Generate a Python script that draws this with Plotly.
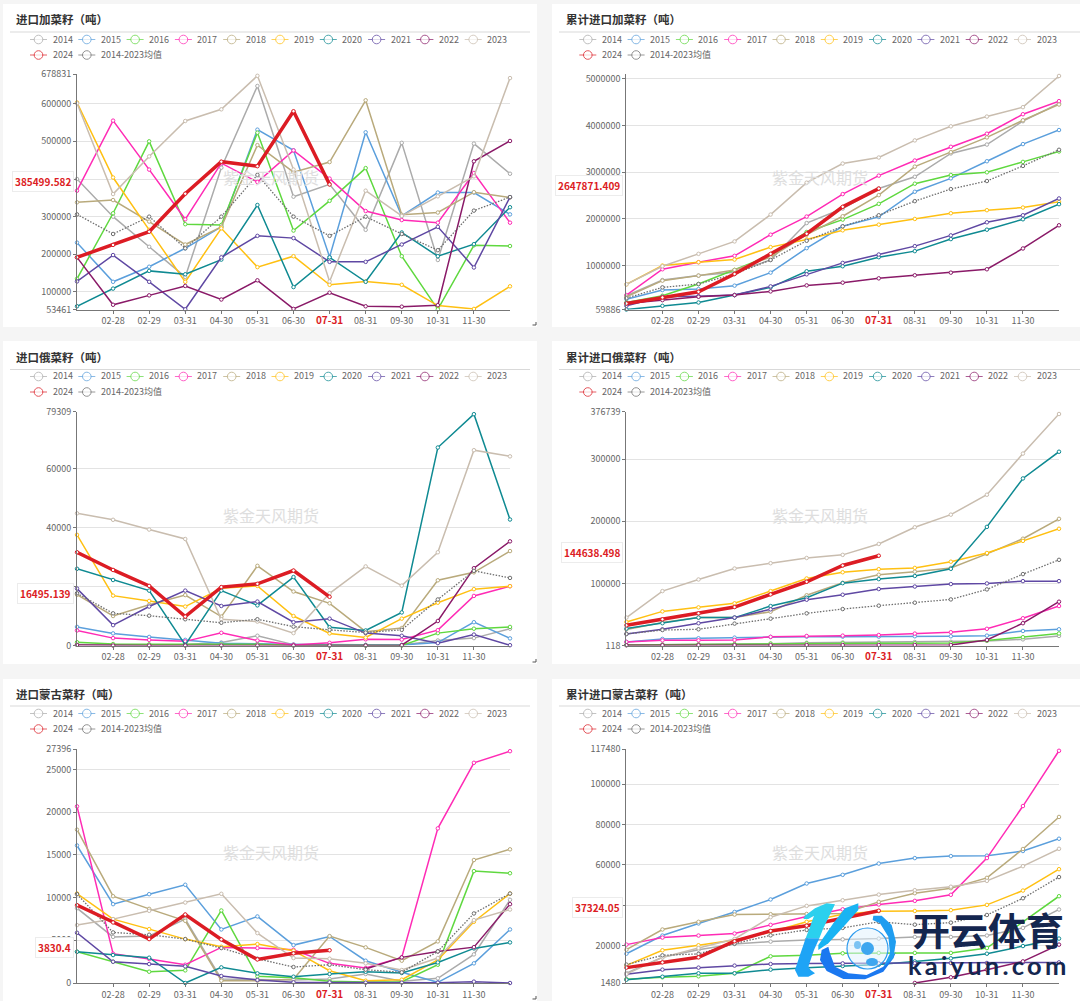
"""
plot.py – 进口菜籽月度 / 累计图 (6 面板)
"""
import plotly.graph_objects as go

W, H = 1080, 1001

MONTHS = ["01-31", "02-28", "02-29", "03-31", "04-30", "05-31", "06-30",
          "07-31", "08-31", "09-30", "10-31", "11-30", "12-31"]
SERIES = ["2014", "2015", "2016", "2017", "2018", "2019", "2020", "2021",
          "2022", "2023", "2024", "2014-2023均值"]
COLORS = ["#ababab", "#5b9fdc", "#5fd83f", "#ff2bb5", "#b9aa7c", "#ffc012",
          "#0f8a92", "#5f48a3", "#8a1a68", "#c9bdaf", "#dc1c24", "#6e6e6e"]

# 每行顺序同 SERIES
CAD_MONTHLY = [
    [400000, 300000, 220000, 140000, 430000, 647000, 353000, 386000, 265000, 496000, 185000, 494000, 414000],
    [231000, 127000, 167000, 216000, 273000, 531000, 476000, 193000, 524000, 302000, 364000, 364000, 306000],
    [135000, 309000, 500000, 280000, 278000, 523000, 263000, 342000, 429000, 195000, 54000, 224000, 222000],
    [369000, 555000, 425000, 293000, 442000, 392000, 476000, 401000, 315000, 291000, 284000, 416000, 284000],
    [338000, 344000, 287000, 226000, 273000, 490000, 418000, 445000, 609000, 305000, 311000, 365000, 351000],
    [603000, 404000, 265000, 127000, 269000, 166000, 195000, 119000, 128000, 119000, 64000, 55000, 115000],
    [62000, 109000, 156000, 147000, 186000, 331000, 113000, 192000, 127000, 258000, 195000, 227000, 325000],
    [128000, 198000, 127000, 54000, 192000, 249000, 243000, 180000, 180000, 226000, 273000, 165000, 352000],
    [192000, 66000, 91000, 116000, 80000, 131000, 55000, 98000, 62000, 61000, 65000, 447000, 501000],
    [601000, 360000, 460000, 554000, 585000, 674000, 425000, 128000, 369000, 302000, 354000, 407000, 668000],
    [192000, 225000, 260000, 361000, 446000, 434000, 580000, 385499.582, None, None, None, None, None],
    [306000, 254000, 300000, 216000, 300000, 411000, 300000, 249000, 300000, 254000, 211000, 316000, 352000],
]
CAD_TOTAL = [
    [354000, 690000, 785000, 856000, 1120000, 1910000, 2220000, 2650000, 2900000, 3400000, 3590000, 4090000, 4470000],
    [280000, 476000, 497000, 570000, 849000, 1373000, 1840000, 2041000, 2580000, 2867000, 3233000, 3600000, 3901000],
    [210000, 354000, 605000, 907000, 1215000, 1718000, 1984000, 2321000, 2752000, 2939000, 2996000, 3219000, 3442000],
    [368000, 921000, 1072000, 1208000, 1661000, 2049000, 2530000, 2925000, 3248000, 3542000, 3822000, 4239000, 4519000],
    [332000, 677000, 785000, 907000, 1180000, 1661000, 2056000, 2508000, 3118000, 3427000, 3743000, 4110000, 4447000],
    [598000, 1000000, 1072000, 1129000, 1395000, 1560000, 1754000, 1876000, 1998000, 2120000, 2185000, 2242000, 2364000],
    [59886, 138000, 210000, 368000, 533000, 878000, 986000, 1180000, 1309000, 1567000, 1768000, 1991000, 2314000],
    [138000, 332000, 346000, 368000, 555000, 813000, 1057000, 1237000, 1416000, 1646000, 1926000, 2077000, 2436000],
    [189000, 260000, 332000, 368000, 447000, 576000, 634000, 727000, 792000, 849000, 921000, 1366000, 1862000],
    [598000, 986000, 1251000, 1517000, 2092000, 2774000, 3183000, 3312000, 3679000, 3980000, 4189000, 4390000, 5058000],
    [189000, 318000, 440000, 820000, 1251000, 1682000, 2257000, 2647871.409, None, None, None, None, None],
    [303000, 533000, 605000, 820000, 1120000, 1531000, 1840000, 2077000, 2379000, 2637000, 2810000, 3133000, 3478000],
]
RUS_MONTHLY = [
    [300, 200, 200, 300, 1000, 3300, 300, 300, 200, 200, 1700, 2500, 5700],
    [6300, 4100, 2900, 1900, 800, 600, 300, 200, 200, 200, 1000, 7900, 2400],
    [1100, 500, 400, 400, 400, 400, 100, 0, 0, 0, 4200, 5700, 6300],
    [5100, 2500, 1900, 1400, 4300, 1700, 200, 900, 2100, 2000, 5200, 16800, 20100],
    [17200, 10000, 13800, 17100, 9800, 27000, 18300, 14300, 4700, 5900, 22100, 24800, 32000],
    [37500, 16900, 15100, 13200, 19400, 20200, 10000, 4100, 2700, 9100, 14500, 19100, 20100],
    [26000, 22200, 18600, 200, 18600, 13600, 23200, 6200, 5100, 11200, 67100, 78400, 42700],
    [19300, 6900, 13200, 18600, 13400, 14900, 7900, 9100, 4200, 3300, 800, 3700, 100],
    [200, 0, 0, 0, 0, 0, 0, 0, 0, 100, 8300, 26200, 35300],
    [44800, 42600, 39300, 36100, 8900, 8100, 4200, 17700, 26800, 20300, 31600, 66200, 64100],
    [31600, 25600, 20200, 9800, 19800, 20900, 25400, 16495.139, None, None, None, None, None],
    [17700, 10900, 10100, 8900, 7700, 8900, 6400, 5300, 4400, 5300, 15600, 25300, 22900],
]
RUS_TOTAL = [
    [1000, 1400, 1500, 2000, 3000, 4500, 5000, 5500, 5700, 6000, 7500, 10000, 15500],
    [5900, 10700, 11800, 12800, 13900, 14400, 14400, 14400, 15000, 15000, 16000, 23500, 26200],
    [1000, 1500, 2000, 2500, 3200, 3500, 3700, 3800, 3800, 4000, 8000, 13500, 19500],
    [5900, 8400, 8400, 9000, 14000, 15500, 16000, 17000, 19300, 21500, 27000, 44000, 63600],
    [26000, 37000, 45000, 45000, 54500, 81000, 101000, 114000, 119000, 125000, 147600, 172000, 204000],
    [38000, 55000, 61500, 68000, 87700, 108000, 118000, 123000, 125000, 135000, 149000, 168500, 188000],
    [27300, 36000, 45000, 45000, 63600, 77000, 100500, 107000, 112000, 123500, 191000, 269000, 312000],
    [18700, 26200, 36000, 45000, 58300, 73800, 81800, 91000, 95000, 99000, 100000, 103700, 103700],
    [500, 600, 700, 800, 800, 900, 900, 1000, 1000, 1000, 9000, 36000, 70600],
    [45000, 87700, 106400, 124000, 132600, 141000, 146000, 163600, 190400, 210700, 242800, 309000, 372700],
    [32600, 42200, 51900, 62000, 82400, 102700, 128900, 144638.498, None, None, None, None, None],
    [18700, 25000, 26200, 35300, 43300, 51900, 58800, 64200, 69000, 74300, 90400, 115000, 138000],
]
MON_MONTHLY = [
    [8760, 5400, 5500, 7480, 470, 390, 350, 470, 1050, 200, 550, 3350, 9740],
    [16100, 9230, 10400, 11500, 6270, 7790, 4440, 5450, 2610, 1250, 80, 2300, 6270],
    [3660, 2490, 1320, 1480, 8490, 780, 620, 200, 120, 160, 2140, 13100, 12850],
    [20680, 3430, 2800, 2140, 4170, 4090, 3890, 2300, 1750, 3000, 18100, 25780, 27140],
    [17950, 10160, 8680, 7280, 270, 270, 430, 5490, 4170, 2610, 4870, 14400, 15650],
    [10470, 7480, 6310, 5140, 4240, 4560, 3780, 1440, 270, 390, 2690, 7170, 10470],
    [3660, 3270, 2960, 0, 1830, 1130, 740, 1050, 1320, 1170, 2410, 4050, 4750],
    [5880, 2490, 2220, 1950, 820, 350, 80, 80, 40, 40, 40, 160, 0],
    [None, None, None, None, None, None, None, None, 1640, 3000, 3700, 4200, 9230],
    [6780, 7480, 8450, 9420, 10440, 5840, 2920, 2840, 2300, 1520, 2920, 7360, 8600],
    [9110, 7090, 5140, 8020, 5100, 2760, 3470, 3830.4, None, None, None, None, None],
    [10400, 5920, 5650, 5140, 4090, 2840, 1870, 2140, 1560, 1250, 3700, 8140, 10470],
]
MON_TOTAL = [
    [6400, 14200, 18000, 20800, 22000, 22800, 23100, 23500, 24300, 24300, 25000, 28800, 37900],
    [16000, 25000, 31000, 36700, 42900, 50800, 55100, 60700, 63400, 64400, 64600, 66900, 73000],
    [3400, 4300, 4800, 6300, 14700, 15200, 16200, 16400, 16400, 16400, 18800, 31800, 44500],
    [20500, 24000, 25000, 26000, 30300, 34400, 38000, 40400, 42200, 45200, 63400, 89200, 116600],
    [18000, 28000, 31800, 35400, 35600, 35700, 35900, 41700, 46000, 48500, 53600, 67900, 83800],
    [10200, 17700, 20200, 22800, 26800, 31800, 35600, 37100, 37200, 37600, 40200, 47300, 57900],
    [3100, 4600, 6300, 6300, 8100, 9100, 9900, 10600, 12200, 13700, 16000, 19800, 23500],
    [5800, 8100, 9100, 10100, 10900, 11100, 11200, 11200, 11300, 11400, 11400, 11700, 11700],
    [None, None, None, None, None, None, None, None, 1500, 4300, 8100, 12200, 20500],
    [5900, 14200, 18800, 23300, 34100, 39700, 42500, 45300, 47500, 49200, 52100, 59400, 68000],
    [9100, 11700, 14200, 22200, 27300, 29900, 33400, 37324.05, None, None, None, None, None],
    [10600, 15200, 15900, 21000, 25100, 27800, 28800, 31800, 30400, 31400, 35200, 43500, 54000],
]

TITLES = ["进口加菜籽（吨）", "累计进口加菜籽（吨）", "进口俄菜籽（吨）",
          "累计进口俄菜籽（吨）", "进口蒙古菜籽（吨）", "累计进口蒙古菜籽（吨）"]
TABLES = [CAD_MONTHLY, CAD_TOTAL, RUS_MONTHLY, RUS_TOTAL, MON_MONTHLY, MON_TOTAL]
Y_TICKS = [
    [53461, 100000, 200000, 300000, 400000, 500000, 600000, 678831],
    [59886, 1000000, 2000000, 3000000, 4000000, 5000000],
    [0, 20000, 40000, 60000, 79309],
    [118, 100000, 200000, 300000, 376739],
    [0, 5000, 10000, 15000, 20000, 25000, 27396],
    [1480, 20000, 40000, 60000, 80000, 100000, 117480],
]
Y_MAX = [678831, 5100000, 79309, 376739, 27396, 117480]
Y_MIN = [53461, 59886, 0, 118, 0, 1480]
LATEST = ["385499.582", "2647871.409", "16495.139", "144638.498", "3830.4", "37324.05"]

FONT = "Noto Sans CJK SC"
# 面板几何 (像素): 行 = (面板上, 面板下, 标题中线, 分隔线, 图例1, 图例2, 轴上, 轴下)
ROWS = [(4, 327, 19, 32, 39.5, 55, 74, 309.5),
        (341, 664, 357, 369.5, 376.5, 392, 411.5, 645.5),
        (679, 1001, 694, 706, 713.5, 729, 749, 983)]
# 列 = (面板左, 面板右, 标题左, 线左, 线右, 轴左, 轴右, 图例左)
COLS = [(3, 537, 14, 10, 530, 77, 510, 30),
        (552, 1080, 563.5, 559, 1080, 626.4, 1059, 579.3)]
LEGEND_STEP = 48.3


def px(x):
    return x / W


def py(y):
    return 1 - y / H


def path(points, close=True):
    s = "M" + " L".join(f"{px(x):.5f},{py(y):.5f}" for x, y in points)
    return s + (" Z" if close else "")


def logo_path(points, color):
    # 坐标取自 logo 局部 (790, 895 起, 3 倍)
    pts = [(790 + a / 3, 895 + b / 3) for a, b in points]
    return dict(type="path", xref="paper", yref="paper", layer="above", path=path(pts),
                fillcolor=color, line_width=0)


def legend_items(col, row):
    # 图例: 短线 + 空心圆 + 文字
    items, texts = [], []
    for k, name in enumerate(SERIES):
        x0 = col[7] + LEGEND_STEP * (k if k < 10 else k - 10)
        y0 = row[4] if k < 10 else row[5]
        items.append(dict(type="line", xref="paper", yref="paper", x0=px(x0), x1=px(x0 + 17),
                          y0=py(y0), y1=py(y0), opacity=0.7, line=dict(color=COLORS[k], width=1)))
        items.append(dict(type="circle", xref="paper", yref="paper", x0=px(x0 + 4.2), x1=px(x0 + 12.8),
                          y0=py(y0 + 4.3), y1=py(y0 - 4.3), opacity=0.75, fillcolor="white",
                          line=dict(color=COLORS[k], width=1)))
        texts.append(dict(text=name, xref="paper", yref="paper", x=px(x0 + 20.5), y=py(y0 - 0.5),
                          xanchor="left", yanchor="middle", showarrow=False,
                          font=dict(family=FONT, size=9, color="#666666")))
    return items, texts


fig = go.Figure()
shapes, annotations = [], []
layout = {}

for i, (title, table) in enumerate(zip(TITLES, TABLES)):
    row, col = ROWS[i // 2], COLS[i % 2]
    n = "" if i == 0 else str(i + 1)
    xname, yname = "x" + n, "y" + n

    # 面板底色 / 标题线
    shapes.append(dict(type="rect", xref="paper", yref="paper", layer="below",
                       x0=px(col[0]), x1=px(col[1]), y0=py(row[1]), y1=py(row[0]),
                       fillcolor="white", line_width=0))
    shapes.append(dict(type="line", xref="paper", yref="paper", layer="below",
                       x0=px(col[3]), x1=px(col[4]), y0=py(row[3]), y1=py(row[3]),
                       line=dict(color="#d9d9d9", width=1)))
    annotations.append(dict(text=f"<b>{title}</b>", xref="paper", yref="paper",
                            x=px(col[2]), y=py(row[2]), xanchor="left", yanchor="middle",
                            showarrow=False, font=dict(family=FONT, size=11.5, color="#333333")))
    annotations.append(dict(text="紫金天风期货", xref="paper", yref="paper",
                            x=px((col[5] + col[6]) / 2 - 23), y=py(row[6] + 103),
                            xanchor="center", yanchor="middle", showarrow=False,
                            font=dict(family=FONT, size=16, color="#dedede")))

    # 2024 最后画, 均值在它下面
    for k in [0, 1, 2, 3, 4, 5, 6, 7, 8, 9, 11, 10]:
        is_now = k == 10
        is_avg = k == 11
        fig.add_trace(go.Scatter(
            x=MONTHS, y=table[k], xaxis=xname, yaxis=yname, mode="lines+markers",
            name=SERIES[k], showlegend=False, cliponaxis=False,
            line=dict(color=COLORS[k], width=3.5 if is_now else 1.3 if is_avg else 1.5,
                      dash="1.5px,1.5px" if is_avg else "solid"),
            marker=dict(symbol="circle", size=3.5, color="white",
                        line=dict(color=COLORS[k], width=1)),
        ))

    items, texts = legend_items(col, row)
    shapes += items
    annotations += texts

    ticktext = [f'<span style="color:#dc1c24;font-size:10px"><b>{m}</b></span>' if m == "07-31" else m
                for m in MONTHS[1:12]]
    layout["xaxis" + n] = dict(
        domain=[px(col[5]), px(col[6])], anchor=yname, type="category", range=[0, 12],
        tickmode="array", tickvals=MONTHS[1:12], ticktext=ticktext, tickangle=0,
        ticks="outside", ticklen=3, tickcolor="#777777", showgrid=False, zeroline=False,
        showline=True, linecolor="#777777", linewidth=1,
        tickfont=dict(family=FONT, size=9, color="#666666"),
    )
    layout["yaxis" + n] = dict(
        domain=[py(row[7]), py(row[6])], anchor=xname, range=[Y_MIN[i], Y_MAX[i]],
        tickmode="array", tickvals=Y_TICKS[i], ticktext=[str(v) for v in Y_TICKS[i]],
        ticks="outside", ticklen=3, tickcolor="#777777", gridcolor="#e3e3e3", gridwidth=1,
        zeroline=False, showline=True, linecolor="#777777", linewidth=1,
        tickfont=dict(family=FONT, size=9, color="#666666"),
    )

    # 最新值标签
    annotations.append(dict(text=f"<b>{LATEST[i]}</b>", xref=xname + " domain", yref=yname,
                            x=0, y=float(LATEST[i]), xanchor="right", yanchor="middle",
                            xshift=-3, yshift=3, showarrow=False, bgcolor="white",
                            bordercolor="#ececec", borderwidth=1, borderpad=2,
                            font=dict(family=FONT, size=10, color="#dc1c24")))

    # 右下角缩放标记
    if i % 2 == 0:
        shapes.append(dict(type="path", xref="paper", yref="paper",
                           path=path([(536, row[1] - 5), (536, row[1] - 2), (532.5, row[1] - 2)], close=False),
                           line=dict(color="#555555", width=1)))

# 右下角水印 logo
shapes += [
    logo_path([(135, 28), (110, 25), (75, 40), (45, 62), (40, 72), (55, 72), (72, 62), (60, 95),
               (47, 130), (88, 130), (100, 100)], "#2bd0ee"),
    logo_path([(47, 130), (28, 185), (15, 225), (25, 245), (55, 245), (75, 235), (62, 225),
               (55, 215), (72, 165), (88, 130)], "#1ea4f6"),
    logo_path([(85, 150), (130, 85), (165, 40), (205, 25), (205, 45), (170, 85), (115, 145),
               (85, 165)], "#19b4f3"),
    logo_path([(95, 165), (115, 155), (120, 175), (135, 215), (175, 235), (230, 240), (280, 215),
               (318, 170), (310, 190), (280, 230), (225, 253), (160, 252), (110, 228), (90, 195)],
              "#1b78f0"),
    logo_path([(280, 215), (300, 175), (295, 125), (270, 85), (248, 75), (250, 62), (275, 62),
               (305, 90), (318, 140), (310, 190)], "#1f9df0"),
    dict(type="circle", xref="paper", yref="paper", layer="above",
         x0=px(847), x1=px(888), y0=py(969), y1=py(928),
         fillcolor="rgba(225,242,253,0.55)", line=dict(color="#2d9bee", width=1.2)),
    dict(type="circle", xref="paper", yref="paper", layer="above",
         x0=px(861), x1=px(874), y0=py(955), y1=py(942),
         fillcolor="#3ea6ef", line_width=0),
    dict(type="circle", xref="paper", yref="paper", layer="above",
         x0=px(854), x1=px(861), y0=py(949), y1=py(941),
         fillcolor="#7cc3f3", line_width=0),
    dict(type="circle", xref="paper", yref="paper", layer="above",
         x0=px(866), x1=px(878), y0=py(966), y1=py(958),
         fillcolor="#3ea6ef", line_width=0),
]
annotations.append(dict(text="<b>开云体育</b>", xref="paper", yref="paper", x=px(988), y=py(928),
                        xanchor="center", yanchor="middle", showarrow=False,
                        font=dict(family=FONT, size=38, color="#14264f")))
annotations.append(dict(text="<b>k\u2009a\u2009i\u2009y\u2009u\u2009n\u2009.\u2009c\u2009o\u2009m</b>",
                        xref="paper", yref="paper", x=px(987), y=py(965),
                        xanchor="center", yanchor="middle", showarrow=False,
                        font=dict(family="Lato", size=25.5, color="#14264f")))

fig.update_layout(
    width=W, height=H, margin=dict(l=0, r=0, t=0, b=0, autoexpand=False),
    paper_bgcolor="#f5f5f5", plot_bgcolor="white", showlegend=False,
    font=dict(family=FONT), shapes=shapes, annotations=annotations, **layout,
)

fig.write_html("out.html", config=dict(displayModeBar=False),
               post_script="document.body.style.margin='0';")
